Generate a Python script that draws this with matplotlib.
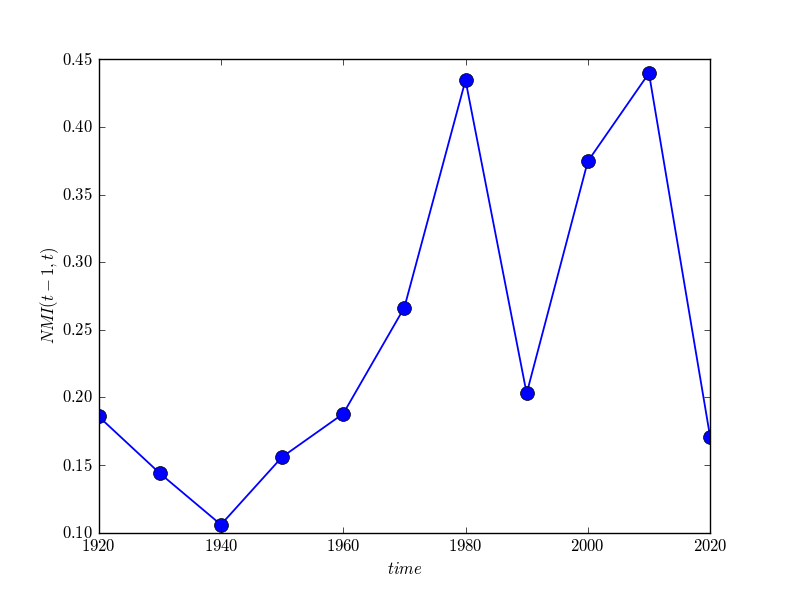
import matplotlib
matplotlib.use("Agg")
import matplotlib.pyplot as plt

years = [1920, 1930, 1940, 1950, 1960, 1970, 1980, 1990, 2000, 2010, 2020]
nmi = [0.186, 0.144, 0.106, 0.156, 0.188, 0.2665, 0.4345, 0.203, 0.3745, 0.4397, 0.171]

plt.style.use('classic')
plt.rcParams['font.family'] = 'serif'
plt.rcParams['font.serif'] = ['cmr10']
plt.rcParams['mathtext.fontset'] = 'cm'
plt.rcParams['axes.formatter.use_mathtext'] = True
plt.rcParams['axes.formatter.useoffset'] = False

fig = plt.figure(figsize=(7.89, 5.92), dpi=100)
ax = fig.add_subplot(111)
ax.plot(years, nmi, 'o-', color='b', markerfacecolor='b', markeredgecolor='k',
        markersize=10, linewidth=1.3)
ax.set_xlim(1920, 2020)
ax.set_ylim(0.10, 0.45)
ax.set_xlabel('$time$')
ax.set_ylabel('$NMI(t-1,t)$', labelpad=1)
fig.savefig('out.png', dpi=100)
